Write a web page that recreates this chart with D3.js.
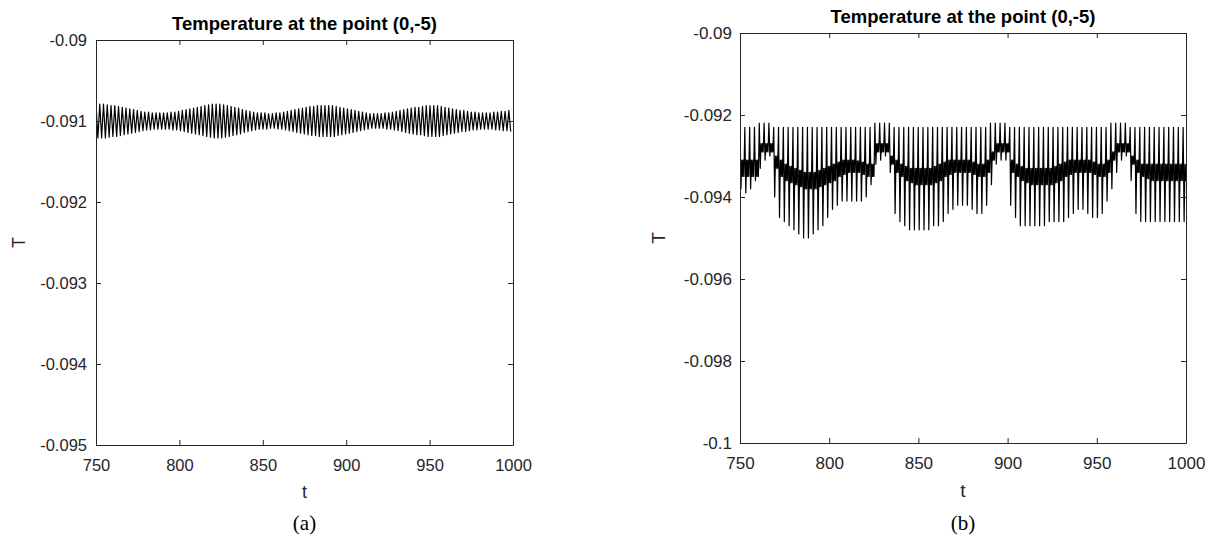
<!DOCTYPE html>
<html>
<head>
<meta charset="utf-8">
<script src="https://cdn.jsdelivr.net/npm/d3@7"></script>
<style>
  body { margin: 0; background: #fff; }
  svg { display: block; }
</style>
</head>
<body>
<script>
// ---- data ----
var xTicks = [750, 800, 850, 900, 950, 1000];
var aYTicks = [-0.09, -0.091, -0.092, -0.093, -0.094, -0.095];
var bYTicks = [-0.09, -0.092, -0.094, -0.096, -0.098, -0.1];

// panel (a): one peak and one trough per oscillation, starting at t=750
var aStart = 750, aStep = 2.25;
var aPeaks = [
  -0.09079,-0.09079,-0.09079,-0.09080,-0.09081,-0.09081,-0.09082,-0.09083,-0.09084,-0.09085,
  -0.09086,-0.09087,-0.09088,-0.09089,-0.09089,-0.09090,-0.09090,-0.09090,-0.09090,-0.09090,
  -0.09089,-0.09089,-0.09088,-0.09087,-0.09086,-0.09085,-0.09084,-0.09083,-0.09082,-0.09081,
  -0.09080,-0.09079,-0.09079,-0.09079,-0.09080,-0.09081,-0.09082,-0.09083,-0.09084,-0.09086,
  -0.09087,-0.09088,-0.09089,-0.09090,-0.09090,-0.09090,-0.09091,-0.09091,-0.09090,-0.09090,
  -0.09089,-0.09088,-0.09087,-0.09086,-0.09085,-0.09084,-0.09083,-0.09082,-0.09082,-0.09081,
  -0.09081,-0.09081,-0.09081,-0.09081,-0.09082,-0.09083,-0.09084,-0.09085,-0.09086,-0.09087,
  -0.09088,-0.09089,-0.09090,-0.09091,-0.09091,-0.09091,-0.09091,-0.09090,-0.09090,-0.09089,
  -0.09088,-0.09087,-0.09086,-0.09085,-0.09084,-0.09083,-0.09083,-0.09082,-0.09081,-0.09081,
  -0.09081,-0.09081,-0.09082,-0.09083,-0.09084,-0.09085,-0.09086,-0.09087,-0.09087,-0.09088,
  -0.09089,-0.09089,-0.09090,-0.09090,-0.09090,-0.09090,-0.09089,-0.09089,-0.09088,-0.09088,
  -0.09087
];
var aTroughs = [
  -0.09121,-0.09121,-0.09121,-0.09120,-0.09119,-0.09119,-0.09118,-0.09117,-0.09116,-0.09115,
  -0.09114,-0.09113,-0.09112,-0.09111,-0.09111,-0.09110,-0.09110,-0.09110,-0.09110,-0.09110,
  -0.09111,-0.09111,-0.09112,-0.09113,-0.09114,-0.09115,-0.09116,-0.09117,-0.09118,-0.09119,
  -0.09120,-0.09121,-0.09121,-0.09121,-0.09120,-0.09119,-0.09118,-0.09117,-0.09116,-0.09114,
  -0.09113,-0.09112,-0.09111,-0.09110,-0.09110,-0.09110,-0.09109,-0.09109,-0.09110,-0.09110,
  -0.09111,-0.09112,-0.09113,-0.09114,-0.09115,-0.09116,-0.09117,-0.09118,-0.09118,-0.09119,
  -0.09119,-0.09119,-0.09119,-0.09119,-0.09118,-0.09117,-0.09116,-0.09115,-0.09114,-0.09113,
  -0.09112,-0.09111,-0.09110,-0.09109,-0.09109,-0.09109,-0.09109,-0.09110,-0.09110,-0.09111,
  -0.09112,-0.09113,-0.09114,-0.09115,-0.09116,-0.09117,-0.09117,-0.09118,-0.09119,-0.09119,
  -0.09119,-0.09119,-0.09118,-0.09117,-0.09116,-0.09115,-0.09114,-0.09113,-0.09113,-0.09112,
  -0.09111,-0.09111,-0.09110,-0.09110,-0.09110,-0.09110,-0.09111,-0.09111,-0.09112,-0.09112,
  -0.09113
];

// panel (b): per oscillation a top, a deep minimum and the two edges of the dark band
var bStart = 750, bStep = 2.7;
var bUpper = [
  -0.0923,-0.0923,-0.0923,-0.0923,-0.0922,-0.0922,-0.0922,-0.0923,-0.0923,-0.0923,
  -0.0923,-0.0923,-0.0923,-0.0923,-0.0923,-0.0923,-0.0923,-0.0923,-0.0923,-0.0923,
  -0.0923,-0.0923,-0.0923,-0.0923,-0.0923,-0.0923,-0.0923,-0.0923,-0.0922,-0.0922,
  -0.0922,-0.0922,-0.0923,-0.0923,-0.0923,-0.0923,-0.0923,-0.0923,-0.0923,-0.0923,
  -0.0923,-0.0923,-0.0923,-0.0923,-0.0923,-0.0923,-0.0923,-0.0923,-0.0923,-0.0923,
  -0.0923,-0.0923,-0.0922,-0.0922,-0.0922,-0.0922,-0.0923,-0.0923,-0.0923,-0.0923,
  -0.0923,-0.0923,-0.0923,-0.0923,-0.0923,-0.0923,-0.0923,-0.0923,-0.0923,-0.0923,
  -0.0923,-0.0923,-0.0923,-0.0923,-0.0923,-0.0923,-0.0923,-0.0922,-0.0922,-0.0922,
  -0.0922,-0.0923,-0.0923,-0.0923,-0.0923,-0.0923,-0.0923,-0.0923,-0.0923,-0.0923,
  -0.0923,-0.0923,-0.0923
];
var bLower = [
  -0.0938,-0.0939,-0.0938,-0.0936,-0.0933,-0.0931,-0.0930,-0.0940,-0.0945,-0.0946,
  -0.0947,-0.0948,-0.0949,-0.0950,-0.0950,-0.0949,-0.0948,-0.0947,-0.0945,-0.0943,
  -0.0942,-0.0941,-0.0941,-0.0941,-0.0941,-0.0941,-0.0940,-0.0937,-0.0932,-0.0931,
  -0.0930,-0.0934,-0.0944,-0.0946,-0.0947,-0.0948,-0.0948,-0.0948,-0.0948,-0.0948,
  -0.0947,-0.0947,-0.0946,-0.0944,-0.0943,-0.0942,-0.0942,-0.0942,-0.0943,-0.0944,
  -0.0944,-0.0942,-0.0937,-0.0932,-0.0931,-0.0931,-0.0942,-0.0945,-0.0947,-0.0947,
  -0.0947,-0.0947,-0.0947,-0.0947,-0.0946,-0.0946,-0.0946,-0.0946,-0.0945,-0.0944,
  -0.0943,-0.0943,-0.0944,-0.0945,-0.0945,-0.0944,-0.0941,-0.0938,-0.0934,-0.0931,
  -0.0930,-0.0936,-0.0944,-0.0946,-0.0946,-0.0946,-0.0946,-0.0946,-0.0946,-0.0946,
  -0.0946,-0.0946,-0.0946
];
var bBandHi = [
  -0.0931,-0.0931,-0.0931,-0.0931,                                  // t 750-758
  -0.0927,-0.0927,-0.0927,                                          // kink
  -0.0930,-0.0931,-0.0932,-0.09325,-0.0933,-0.09335,-0.0934,-0.0934,-0.0934,-0.09335,
  -0.0933,-0.09325,-0.0932,-0.09315,-0.0931,-0.0931,-0.0931,-0.09312,-0.09315,-0.0932,
  -0.0932,
  -0.0927,-0.0927,-0.0927,                                          // kink
  -0.0930,-0.0931,-0.0932,-0.09325,-0.0933,-0.0933,-0.0933,-0.0933,-0.0933,-0.09325,
  -0.0932,-0.09315,-0.0931,-0.0931,-0.0931,-0.0931,-0.0931,-0.09315,-0.0932,-0.0932,
  -0.0931,
  -0.0929,-0.0927,-0.0927,-0.0927,                                  // kink
  -0.0931,-0.0932,-0.09325,-0.0933,-0.0933,-0.0933,-0.0933,-0.0933,-0.0933,-0.09325,
  -0.0932,-0.09315,-0.0931,-0.0931,-0.0931,-0.0931,-0.0931,-0.09315,-0.0932,-0.0932,
  -0.0931,
  -0.0929,-0.0927,-0.0927,-0.0927,                                  // kink
  -0.0930,-0.0931,-0.0932,-0.0932,-0.0932,-0.0932,-0.0932,-0.0932,-0.0932,-0.0932,
  -0.0932,-0.0932
];
var bBandLo = [
  -0.0935,-0.0935,-0.0935,-0.0935,
  -0.0929,-0.0929,-0.0929,
  -0.0933,-0.0935,-0.0936,-0.09365,-0.0937,-0.09375,-0.0938,-0.0938,-0.0938,-0.09375,
  -0.0937,-0.09365,-0.0936,-0.0935,-0.09345,-0.0934,-0.0934,-0.0934,-0.09345,-0.0935,
  -0.0935,
  -0.0929,-0.0929,-0.0929,
  -0.0932,-0.0934,-0.0935,-0.0936,-0.09365,-0.0937,-0.0937,-0.0937,-0.0937,-0.09365,
  -0.0936,-0.0935,-0.09345,-0.0934,-0.0934,-0.0934,-0.0934,-0.09345,-0.0935,-0.0935,
  -0.0934,
  -0.0931,-0.0929,-0.0929,-0.0929,
  -0.0934,-0.0935,-0.0936,-0.09365,-0.0937,-0.0937,-0.0937,-0.0937,-0.0937,-0.09365,
  -0.0936,-0.0935,-0.09345,-0.0934,-0.0934,-0.0934,-0.0934,-0.09345,-0.0935,-0.0935,
  -0.0934,
  -0.0931,-0.0929,-0.0929,-0.0929,
  -0.0932,-0.0934,-0.0935,-0.09355,-0.0936,-0.0936,-0.0936,-0.0936,-0.0936,-0.0936,
  -0.0936,-0.0936
];

// ---- build the point lists ----
var aPoints = [];
aPeaks.forEach(function(v, i) {
    var t0 = aStart + i * aStep;
    aPoints.push({t: t0, T: v});
    aPoints.push({t: t0 + aStep / 2, T: aTroughs[i]});
});

// each (b) cycle: top, quick drop to the minimum, back up, wiggle in the band
var bPoints = [];
bUpper.forEach(function(v, k) {
    var t0 = bStart + k * bStep;
    bPoints.push({t: t0, T: v});
    bPoints.push({t: t0 + 0.55, T: bLower[k]});
    bPoints.push({t: t0 + 1.0, T: bBandHi[k]});
    bPoints.push({t: t0 + 1.4, T: bBandLo[k]});
    bPoints.push({t: t0 + 1.8, T: bBandHi[k]});
    bPoints.push({t: t0 + 2.2, T: bBandLo[k]});
});

var svg = d3.select("body").append("svg")
    .attr("width", 1214)
    .attr("height", 536);

var ink = "#262626";

function panel(o) {
    var x = d3.scaleLinear().domain([750, 1000]).range([o.left, o.right]);
    var y = d3.scaleLinear().domain(o.yDomain).range([o.bottom, o.top]);
    var g = svg.append("g");

    g.append("clipPath").attr("id", o.id)
      .append("rect")
        .attr("x", o.left).attr("y", o.top)
        .attr("width", o.right - o.left).attr("height", o.bottom - o.top);

    var line = d3.line()
        .x(function(d) { return x(d.t); })
        .y(function(d) { return y(d.T); });

    g.append("path")
        .datum(o.points)
        .attr("clip-path", "url(#" + o.id + ")")
        .attr("fill", "none")
        .attr("stroke", "#000")
        .attr("stroke-width", o.lineWidth)
        .attr("stroke-linejoin", "round")
        .attr("d", line);

    var fmt = function(d) { return String(d); };
    var axes = [
        g.append("g").attr("transform", "translate(0," + o.bottom + ")")
            .call(d3.axisBottom(x).tickValues(xTicks).tickFormat(fmt)
                .tickSize(-5).tickSizeOuter(0).tickPadding(o.xPad)),
        g.append("g").attr("transform", "translate(0," + o.top + ")")
            .call(d3.axisTop(x).tickValues(xTicks).tickFormat("")
                .tickSize(-5).tickSizeOuter(0)),
        g.append("g").attr("transform", "translate(" + o.left + ",0)")
            .call(d3.axisLeft(y).tickValues(o.yTicks).tickFormat(fmt)
                .tickSize(-5).tickSizeOuter(0).tickPadding(o.yPad)),
        g.append("g").attr("transform", "translate(" + o.right + ",0)")
            .call(d3.axisRight(y).tickValues(o.yTicks).tickFormat("")
                .tickSize(-5).tickSizeOuter(0))
    ];
    axes.forEach(function(a) {
        a.attr("font-family", "Arial, 'Liberation Sans', sans-serif")
         .attr("font-size", o.tickFont);
        a.selectAll(".domain, line").attr("stroke", ink);
        a.selectAll("text").attr("fill", ink);
    });

    var cx = (o.left + o.right) / 2;
    g.append("text")
        .attr("x", cx).attr("y", o.top - 10)
        .attr("text-anchor", "middle")
        .attr("font-family", "Arial, 'Liberation Sans', sans-serif")
        .attr("font-weight", "bold")
        .attr("font-size", o.titleFont)
        .attr("fill", "#000")
        .text("Temperature at the point (0,-5)");

    g.append("text")
        .attr("x", cx).attr("y", o.bottom + 47)
        .attr("text-anchor", "middle")
        .attr("dominant-baseline", "central")
        .attr("font-family", "Arial, 'Liberation Sans', sans-serif")
        .attr("font-size", o.labelFont)
        .attr("fill", ink)
        .text("t");

    g.append("text")
        .attr("transform", "translate(" + o.yLabelX + "," + (o.top + o.bottom) / 2 + ") rotate(-90)")
        .attr("text-anchor", "middle")
        .attr("dominant-baseline", "central")
        .attr("font-family", "Arial, 'Liberation Sans', sans-serif")
        .attr("font-size", o.labelFont)
        .attr("fill", ink)
        .text("T");

    g.append("text")
        .attr("x", cx).attr("y", 523)
        .attr("text-anchor", "middle")
        .attr("dominant-baseline", "central")
        .attr("font-family", "'Times New Roman', 'Liberation Serif', serif")
        .attr("font-size", 21)
        .attr("fill", "#000")
        .text(o.caption);
}

panel({
    id: "clipA", left: 96, right: 513, top: 40, bottom: 445,
    yDomain: [-0.095, -0.09], yTicks: aYTicks, points: aPoints, lineWidth: 1.2,
    tickFont: 16.5, titleFont: 18.5, labelFont: 18, xPad: 14, yPad: 9,
    yLabelX: 19, caption: "(a)"
});

panel({
    id: "clipB", left: 740, right: 1186, top: 33, bottom: 443,
    yDomain: [-0.1, -0.09], yTicks: bYTicks, points: bPoints, lineWidth: 1.2,
    tickFont: 17, titleFont: 18.5, labelFont: 19, xPad: 14, yPad: 8,
    yLabelX: 658, caption: "(b)"
});
</script>
</body>
</html>
